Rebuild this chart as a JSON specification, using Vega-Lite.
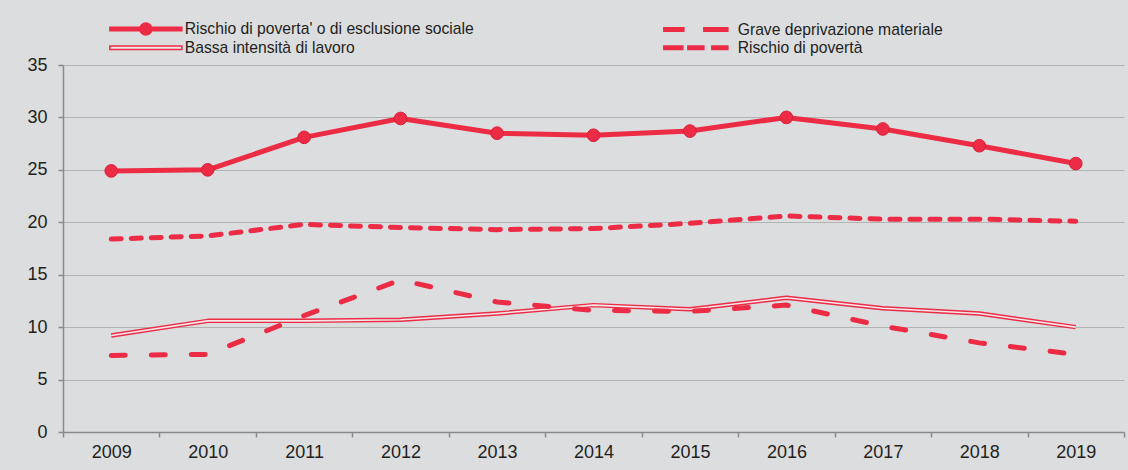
{
  "$schema": "https://vega.github.io/schema/vega-lite/v6.json",
  "width": 1061,
  "height": 367,
  "autosize": "none",
  "padding": {"left": 63, "top": 65, "right": 4, "bottom": 38},
  "background": "#dcdddf",
  "config": {
    "view": {"stroke": null},
    "font": "Liberation Sans",
    "axis": {"labelFont": "Liberation Sans", "labelFontSize": 18, "labelColor": "#231f20", "domainColor": "#8a8a8a", "tickColor": "#8a8a8a", "domainWidth": 1.5, "tickWidth": 1.5}
  },
  "data": {
    "values": [
      {"anno": "2009", "serie": "Rischio di poverta' o di esclusione sociale", "valore": 24.9},
      {"anno": "2010", "serie": "Rischio di poverta' o di esclusione sociale", "valore": 25.0},
      {"anno": "2011", "serie": "Rischio di poverta' o di esclusione sociale", "valore": 28.1},
      {"anno": "2012", "serie": "Rischio di poverta' o di esclusione sociale", "valore": 29.9},
      {"anno": "2013", "serie": "Rischio di poverta' o di esclusione sociale", "valore": 28.5},
      {"anno": "2014", "serie": "Rischio di poverta' o di esclusione sociale", "valore": 28.3},
      {"anno": "2015", "serie": "Rischio di poverta' o di esclusione sociale", "valore": 28.7},
      {"anno": "2016", "serie": "Rischio di poverta' o di esclusione sociale", "valore": 30.0},
      {"anno": "2017", "serie": "Rischio di poverta' o di esclusione sociale", "valore": 28.9},
      {"anno": "2018", "serie": "Rischio di poverta' o di esclusione sociale", "valore": 27.3},
      {"anno": "2019", "serie": "Rischio di poverta' o di esclusione sociale", "valore": 25.6},
      {"anno": "2009", "serie": "Rischio di povertà", "valore": 18.4},
      {"anno": "2010", "serie": "Rischio di povertà", "valore": 18.7},
      {"anno": "2011", "serie": "Rischio di povertà", "valore": 19.8},
      {"anno": "2012", "serie": "Rischio di povertà", "valore": 19.5},
      {"anno": "2013", "serie": "Rischio di povertà", "valore": 19.3},
      {"anno": "2014", "serie": "Rischio di povertà", "valore": 19.4},
      {"anno": "2015", "serie": "Rischio di povertà", "valore": 19.9},
      {"anno": "2016", "serie": "Rischio di povertà", "valore": 20.6},
      {"anno": "2017", "serie": "Rischio di povertà", "valore": 20.3},
      {"anno": "2018", "serie": "Rischio di povertà", "valore": 20.3},
      {"anno": "2019", "serie": "Rischio di povertà", "valore": 20.1},
      {"anno": "2009", "serie": "Grave deprivazione materiale", "valore": 7.3},
      {"anno": "2010", "serie": "Grave deprivazione materiale", "valore": 7.4},
      {"anno": "2011", "serie": "Grave deprivazione materiale", "valore": 11.1},
      {"anno": "2012", "serie": "Grave deprivazione materiale", "valore": 14.5},
      {"anno": "2013", "serie": "Grave deprivazione materiale", "valore": 12.4},
      {"anno": "2014", "serie": "Grave deprivazione materiale", "valore": 11.6},
      {"anno": "2015", "serie": "Grave deprivazione materiale", "valore": 11.5},
      {"anno": "2016", "serie": "Grave deprivazione materiale", "valore": 12.1},
      {"anno": "2017", "serie": "Grave deprivazione materiale", "valore": 10.1},
      {"anno": "2018", "serie": "Grave deprivazione materiale", "valore": 8.5},
      {"anno": "2019", "serie": "Grave deprivazione materiale", "valore": 7.4},
      {"anno": "2009", "serie": "Bassa intensità di lavoro", "valore": 9.2},
      {"anno": "2010", "serie": "Bassa intensità di lavoro", "valore": 10.6},
      {"anno": "2011", "serie": "Bassa intensità di lavoro", "valore": 10.6},
      {"anno": "2012", "serie": "Bassa intensità di lavoro", "valore": 10.7},
      {"anno": "2013", "serie": "Bassa intensità di lavoro", "valore": 11.3},
      {"anno": "2014", "serie": "Bassa intensità di lavoro", "valore": 12.1},
      {"anno": "2015", "serie": "Bassa intensità di lavoro", "valore": 11.7},
      {"anno": "2016", "serie": "Bassa intensità di lavoro", "valore": 12.8},
      {"anno": "2017", "serie": "Bassa intensità di lavoro", "valore": 11.8},
      {"anno": "2018", "serie": "Bassa intensità di lavoro", "valore": 11.3},
      {"anno": "2019", "serie": "Bassa intensità di lavoro", "valore": 10.0}
    ]
  },
  "encoding": {
    "x": {
      "field": "anno", "type": "ordinal", "bandPosition": 0.5,
      "scale": {"type": "band", "paddingInner": 0, "paddingOuter": 0},
      "axis": {"title": null, "labelAngle": 0, "tickBand": "extent", "tickSize": 5, "labelPadding": 6, "grid": false}
    },
    "y": {
      "field": "valore", "type": "quantitative",
      "scale": {"domain": [0, 35], "nice": false, "zero": true},
      "axis": {"title": null, "values": [0, 5, 10, 15, 20, 25, 30, 35], "tickSize": 5, "labelPadding": 11, "grid": true, "gridColor": "#b3b3b3", "gridWidth": 1}
    }
  },
  "layer": [
    {
      "transform": [{"filter": "datum.serie === 'Bassa intensità di lavoro'"}],
      "mark": {"type": "line", "color": "#ec2b45", "strokeWidth": 4.5, "strokeJoin": "round"}
    },
    {
      "transform": [{"filter": "datum.serie === 'Bassa intensità di lavoro'"}],
      "mark": {"type": "line", "color": "#f3e8ea", "strokeWidth": 1.6, "strokeJoin": "round"}
    },
    {
      "transform": [{"filter": "datum.serie === 'Grave deprivazione materiale'"}],
      "mark": {"type": "line", "color": "#ec2b45", "strokeWidth": 5, "strokeDash": [14, 26], "strokeCap": "round"}
    },
    {
      "transform": [{"filter": "datum.serie === 'Rischio di povertà'"}],
      "mark": {"type": "line", "color": "#ec2b45", "strokeWidth": 5, "strokeDash": [10, 10], "strokeCap": "round"}
    },
    {
      "transform": [{"filter": "datum.serie === \"Rischio di poverta' o di esclusione sociale\""}],
      "mark": {"type": "line", "color": "#ec2b45", "strokeWidth": 5, "strokeJoin": "round"}
    },
    {
      "transform": [{"filter": "datum.serie === \"Rischio di poverta' o di esclusione sociale\""}],
      "mark": {"type": "point", "filled": true, "opacity": 1, "color": "#ec2b45", "size": 160, "stroke": "#d8213b", "strokeWidth": 1}
    },
    {
      "transform": [{"filter": "false"}],
      "mark": {"type": "point", "filled": true, "opacity": 1, "size": 100, "strokeWidth": 1.5},
      "encoding": {
        "shape": {
          "field": "serie", "type": "nominal",
          "scale": {
            "domain": ["Rischio di poverta' o di esclusione sociale", "Grave deprivazione materiale", "Bassa intensità di lavoro", "Rischio di povertà"],
            "range": [
              "M-7.2,-0.35H7.2V0.35H-7.2Z M-1.2,0A1.2,1.2 0 1,1 1.2,0A1.2,1.2 0 1,1 -1.2,0Z",
              "M-7,-0.35H-3V0.35H-7Z M1,-0.35H5.8V0.35H1Z",
              "M-7.2,-0.35H7.2V0.35H-7.2Z",
              "M-7,-0.35H-3.2V0.35H-7Z M-2.2,-0.35H1V0.35H-2.2Z M2.6,-0.35H5.8V0.35H2.6Z"
            ]
          },
          "legend": {"orient": "none", "legendX": 39, "legendY": -44, "columns": 2, "direction": "horizontal", "title": null, "labelFontSize": 15.7, "labelColor": "#231f20", "labelFont": "Liberation Sans", "symbolOffset": 36, "labelOffset": 31, "rowPadding": 1, "columnPadding": 181, "labelLimit": 500, "padding": 0, "symbolStrokeWidth": 1.5}
        },
        "fill": {
          "field": "serie", "type": "nominal",
          "scale": {
            "domain": ["Rischio di poverta' o di esclusione sociale", "Grave deprivazione materiale", "Bassa intensità di lavoro", "Rischio di povertà"],
            "range": ["#ec2b45", "#ec2b45", "#f3e8ea", "#ec2b45"]
          },
          "legend": {"orient": "none", "legendX": 39, "legendY": -44, "columns": 2, "direction": "horizontal", "title": null, "labelFontSize": 15.7, "labelColor": "#231f20", "labelFont": "Liberation Sans", "symbolOffset": 36, "labelOffset": 31, "rowPadding": 1, "columnPadding": 181, "labelLimit": 500, "padding": 0, "symbolStrokeWidth": 1.5}
        },
        "stroke": {
          "field": "serie", "type": "nominal",
          "scale": {
            "domain": ["Rischio di poverta' o di esclusione sociale", "Grave deprivazione materiale", "Bassa intensità di lavoro", "Rischio di povertà"],
            "range": ["#ec2b45", "#ec2b45", "#ec2b45", "#ec2b45"]
          },
          "legend": {"orient": "none", "legendX": 39, "legendY": -44, "columns": 2, "direction": "horizontal", "title": null, "labelFontSize": 15.7, "labelColor": "#231f20", "labelFont": "Liberation Sans", "symbolOffset": 36, "labelOffset": 31, "rowPadding": 1, "columnPadding": 181, "labelLimit": 500, "padding": 0, "symbolStrokeWidth": 1.5}
        }
      }
    }
  ]
}
